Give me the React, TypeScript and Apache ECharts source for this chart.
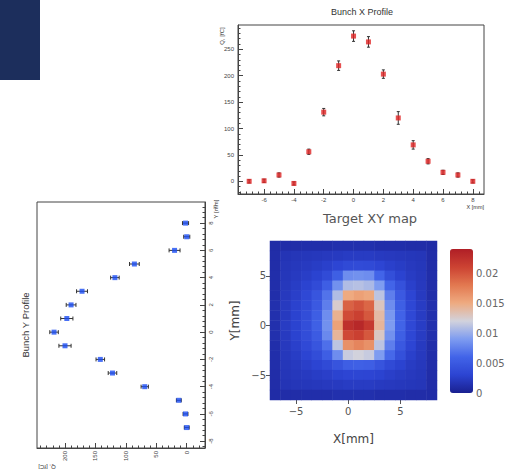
import React, { useEffect, useRef } from "react";
import * as echarts from "echarts";

// ---------- Bunch X profile ----------
const xProfilePos = [-7, -6, -5, -4, -3, -2, -1, 0, 1, 2, 3, 4, 5, 6, 7, 8];
const xProfileQ = [0, 1, 12, -4, 56, 131, 219, 275, 264, 203, 120, 69, 38, 17, 12, 0];
const xProfileErr = [3, 3, 4, 3, 5, 7, 9, 10, 10, 8, 12, 8, 5, 4, 4, 3];

// ---------- Bunch Y profile ----------
const yProfilePos = [8, 7, 6, 5, 4, 3, 2, 1, 0, -1, -2, -3, -4, -5, -6, -7];
const yProfileQ = [2, 0, 20, 86, 118, 172, 190, 197, 218, 200, 142, 122, 69, 13, 2, 0];
const yProfileErr = [5, 5, 9, 8, 7, 9, 8, 10, 7, 10, 7, 7, 6, 4, 4, 4];

// ---------- tick labels ----------
const qTickLabels = [0, 50, 100, 150, 200, 250];
const posTickLabels = [-8, -6, -4, -2, 0, 2, 4, 6, 8];
const mapCells = ["-7", "-6", "-5", "-4", "-3", "-2", "-1", "0", "1", "2", "3", "4", "5", "6", "7", "8"];
const mapTickLabels = ["-5", "0", "5"];
const colorbarTicks = [0, 0.005, 0.01, 0.015, 0.02];

// ---------- Target XY map (rows from y=8 at top down to y=-7) ----------
const mapRowsTopDown = [8, 7, 6, 5, 4, 3, 2, 1, 0, -1, -2, -3, -4, -5, -6, -7];
const mapValues = [
  [0.0010, 0.0011, 0.0011, 0.0012, 0.0012, 0.0012, 0.0013, 0.0013, 0.0013, 0.0013, 0.0012, 0.0012, 0.0012, 0.0011, 0.0011, 0.0010],
  [0.0011, 0.0017, 0.0018, 0.0019, 0.0020, 0.0021, 0.0022, 0.0023, 0.0023, 0.0023, 0.0022, 0.0021, 0.0020, 0.0019, 0.0018, 0.0011],
  [0.0011, 0.0018, 0.0020, 0.0022, 0.0024, 0.0027, 0.0031, 0.0036, 0.0037, 0.0036, 0.0031, 0.0027, 0.0024, 0.0021, 0.0019, 0.0011],
  [0.0012, 0.0019, 0.0022, 0.0025, 0.0029, 0.0037, 0.0055, 0.0082, 0.0084, 0.0082, 0.0060, 0.0040, 0.0029, 0.0023, 0.0020, 0.0012],
  [0.0012, 0.0020, 0.0024, 0.0029, 0.0037, 0.0054, 0.0084, 0.0108, 0.0110, 0.0106, 0.0090, 0.0060, 0.0042, 0.0027, 0.0021, 0.0012],
  [0.0012, 0.0021, 0.0026, 0.0034, 0.0046, 0.0068, 0.0108, 0.0150, 0.0156, 0.0152, 0.0112, 0.0074, 0.0050, 0.0031, 0.0022, 0.0012],
  [0.0013, 0.0022, 0.0028, 0.0036, 0.0050, 0.0074, 0.0125, 0.0192, 0.0200, 0.0190, 0.0130, 0.0082, 0.0055, 0.0033, 0.0023, 0.0013],
  [0.0013, 0.0022, 0.0029, 0.0038, 0.0054, 0.0082, 0.0145, 0.0205, 0.0212, 0.0198, 0.0138, 0.0088, 0.0058, 0.0034, 0.0023, 0.0013],
  [0.0013, 0.0023, 0.0029, 0.0039, 0.0056, 0.0084, 0.0155, 0.0225, 0.0232, 0.0218, 0.0142, 0.0090, 0.0059, 0.0034, 0.0024, 0.0013],
  [0.0013, 0.0022, 0.0029, 0.0038, 0.0052, 0.0080, 0.0142, 0.0206, 0.0212, 0.0198, 0.0128, 0.0084, 0.0055, 0.0033, 0.0023, 0.0013],
  [0.0012, 0.0021, 0.0027, 0.0035, 0.0046, 0.0066, 0.0112, 0.0165, 0.0172, 0.0165, 0.0112, 0.0074, 0.0049, 0.0031, 0.0022, 0.0012],
  [0.0012, 0.0020, 0.0024, 0.0030, 0.0038, 0.0054, 0.0082, 0.0116, 0.0120, 0.0116, 0.0090, 0.0062, 0.0041, 0.0027, 0.0021, 0.0012],
  [0.0012, 0.0019, 0.0022, 0.0026, 0.0030, 0.0036, 0.0045, 0.0054, 0.0056, 0.0054, 0.0045, 0.0036, 0.0029, 0.0023, 0.0020, 0.0012],
  [0.0011, 0.0018, 0.0020, 0.0022, 0.0024, 0.0026, 0.0029, 0.0031, 0.0032, 0.0031, 0.0029, 0.0026, 0.0023, 0.0021, 0.0019, 0.0011],
  [0.0011, 0.0017, 0.0018, 0.0019, 0.0020, 0.0021, 0.0022, 0.0023, 0.0023, 0.0023, 0.0022, 0.0021, 0.0020, 0.0019, 0.0018, 0.0011],
  [0.0010, 0.0011, 0.0011, 0.0012, 0.0012, 0.0012, 0.0013, 0.0013, 0.0013, 0.0013, 0.0012, 0.0012, 0.0012, 0.0011, 0.0011, 0.0010],
];

const ROOT_FONT = "Liberation Sans";
const MPL_FONT = "DejaVu Sans";
const FRAME = "#444";

function steps(min: number, max: number, start: number, step: number): number[] {
  const out: number[] = [];
  for (let v = start; v <= max + 1e-9; v += step) {
    const r = Math.round(v * 1000) / 1000;
    if (r >= min - 1e-9) out.push(r);
  }
  return out;
}
const inRange = (arr: number[], min: number, max: number) => arr.filter((v) => v >= min && v <= max);

function majorAxis(opts: any) {
  const { min, max, labels, position, gridIndex, rotate, inverse, margin } = opts;
  return {
    type: "value",
    gridIndex,
    min,
    max,
    inverse: !!inverse,
    position,
    axisLine: { show: true, onZero: false, lineStyle: { color: FRAME, width: 1 } },
    axisTick: { show: true, inside: true, length: 5, customValues: inRange(labels, min, max), lineStyle: { color: FRAME, width: 1 } },
    axisLabel: {
      show: true,
      customValues: inRange(labels, min, max),
      rotate: rotate || 0,
      margin: margin ?? 3,
      fontSize: 6,
      color: "#444",
      fontFamily: ROOT_FONT,
    },
    splitLine: { show: false },
  };
}

function minorAxis(opts: any) {
  const { min, max, ticks, position, gridIndex, inverse } = opts;
  return {
    type: "value",
    gridIndex,
    min,
    max,
    inverse: !!inverse,
    position,
    axisLine: { show: false, onZero: false },
    axisTick: { show: true, inside: true, length: 2.5, customValues: inRange(ticks, min, max), lineStyle: { color: FRAME, width: 1 } },
    axisLabel: { show: false },
    splitLine: { show: false },
  };
}

function gText(text: string, x: number, y: number, size: number, opts: any = {}) {
  const align = opts.align || "center";
  return {
    type: "text",
    x,
    y,
    rotation: opts.rotation || 0,
    silent: true,
    style: {
      text,
      x: 0,
      y: 0,
      fill: opts.color || "#333",
      fontSize: size,
      fontFamily: opts.font || ROOT_FONT,
      align,
      textAlign: align,
      verticalAlign: "middle",
      textVerticalAlign: "middle",
    },
  };
}

export default function App() {
  const ref = useRef<HTMLDivElement>(null);

  useEffect(() => {
    if (!ref.current) return;
    const chart = echarts.init(ref.current, undefined, { renderer: "svg" });

    const XP = { min: -7.75, max: 8.75 };
    const XQ = { min: -24, max: 296 };
    const YQ = { min: -30, max: 246 };
    const YP = { min: -8.5, max: 9.55 };

    const errStyle = { stroke: "#333", lineWidth: 1 };
    const vErr = (params: any, api: any) => {
      const x = api.value(0), y = api.value(1), e = api.value(2);
      const a = api.coord([x, y + e]);
      const b = api.coord([x, y - e]);
      const c = 1.5;
      return {
        type: "group",
        children: [
          { type: "line", shape: { x1: a[0], y1: a[1], x2: b[0], y2: b[1] }, style: errStyle },
          { type: "line", shape: { x1: a[0] - c, y1: a[1], x2: a[0] + c, y2: a[1] }, style: errStyle },
          { type: "line", shape: { x1: b[0] - c, y1: b[1], x2: b[0] + c, y2: b[1] }, style: errStyle },
        ],
      };
    };
    const hErr = (params: any, api: any) => {
      const q = api.value(0), y = api.value(1), e = api.value(2);
      const a = api.coord([q - e, y]);
      const b = api.coord([q + e, y]);
      const c = 2;
      return {
        type: "group",
        children: [
          { type: "line", shape: { x1: a[0], y1: a[1], x2: b[0], y2: b[1] }, style: errStyle },
          { type: "line", shape: { x1: a[0], y1: a[1] - c, x2: a[0], y2: a[1] + c }, style: errStyle },
          { type: "line", shape: { x1: b[0], y1: b[1] - c, x2: b[0], y2: b[1] + c }, style: errStyle },
        ],
      };
    };

    const heatData: number[][] = [];
    mapRowsTopDown.forEach((yv, r) => {
      const yi = mapCells.indexOf(String(yv));
      mapValues[r].forEach((v, c) => heatData.push([c, yi, v]));
    });

    const showMapTick = (_i: number, v: string) => mapTickLabels.includes(v);

    const option: any = {
      animation: false,
      backgroundColor: "#ffffff",
      grid: [
        { left: 238, top: 25, width: 246, height: 169, show: true, borderColor: FRAME, borderWidth: 1, backgroundColor: "transparent" },
        { left: 37, top: 202, width: 168, height: 246, show: true, borderColor: FRAME, borderWidth: 1, backgroundColor: "transparent" },
        { left: 270, top: 241, width: 167, height: 159, show: false },
        { left: 450, top: 249, width: 23, height: 144, show: false },
      ],
      xAxis: [
        majorAxis({ ...XP, labels: posTickLabels, position: "bottom", gridIndex: 0, margin: 3 }),
        minorAxis({ ...XP, ticks: steps(XP.min, XP.max, -7.6, 0.4), position: "bottom", gridIndex: 0 }),
        majorAxis({ ...YQ, labels: qTickLabels, position: "bottom", gridIndex: 1, rotate: 90, inverse: true, margin: 3 }),
        minorAxis({ ...YQ, ticks: steps(YQ.min, YQ.max, -30, 10), position: "bottom", gridIndex: 1, inverse: true }),
        {
          type: "category",
          gridIndex: 2,
          data: mapCells,
          boundaryGap: true,
          position: "bottom",
          axisLine: { show: false },
          axisTick: { show: true, interval: showMapTick, alignWithLabel: true, length: 4, lineStyle: { color: "#555" } },
          axisLabel: {
            interval: showMapTick,
            formatter: (v: string) => v.replace("-", "\u2212"),
            color: "#555",
            fontSize: 10,
            fontFamily: MPL_FONT,
            margin: 6,
          },
          splitLine: { show: false },
          name: "X[mm]",
          nameLocation: "middle",
          nameGap: 33,
          nameTextStyle: { color: "#444", fontSize: 12, fontFamily: MPL_FONT },
        },
        { type: "value", gridIndex: 3, show: false, min: 0, max: 1 },
      ],
      yAxis: [
        majorAxis({ ...XQ, labels: qTickLabels, position: "left", gridIndex: 0, margin: 4 }),
        minorAxis({ ...XQ, ticks: steps(XQ.min, XQ.max, -20, 10), position: "left", gridIndex: 0 }),
        majorAxis({ ...YP, labels: posTickLabels, position: "right", gridIndex: 1, rotate: 90, margin: 3 }),
        minorAxis({ ...YP, ticks: steps(YP.min, YP.max, -8.4, 0.4), position: "right", gridIndex: 1 }),
        {
          type: "category",
          gridIndex: 2,
          data: mapCells,
          boundaryGap: true,
          position: "left",
          axisLine: { show: false },
          axisTick: { show: true, interval: showMapTick, alignWithLabel: true, length: 4, lineStyle: { color: "#555" } },
          axisLabel: {
            interval: showMapTick,
            formatter: (v: string) => v.replace("-", "\u2212"),
            color: "#555",
            fontSize: 10,
            fontFamily: MPL_FONT,
            margin: 4,
          },
          splitLine: { show: false },
          name: "Y[mm]",
          nameLocation: "middle",
          nameGap: 29,
          nameTextStyle: { color: "#444", fontSize: 12, fontFamily: MPL_FONT },
        },
        {
          type: "value",
          gridIndex: 3,
          min: 0,
          max: 0.024,
          position: "right",
          axisLine: { show: false },
          axisTick: { show: false },
          splitLine: { show: false },
          axisLabel: { customValues: colorbarTicks, color: "#666", fontSize: 10, fontFamily: MPL_FONT, margin: 3 },
        },
      ],
      visualMap: {
        type: "continuous",
        seriesIndex: 4,
        min: 0,
        max: 0.024,
        calculable: false,
        hoverLink: false,
        left: 450,
        top: 249,
        padding: 0,
        itemWidth: 23,
        itemHeight: 144,
        inRange: {
          color: ["#1a2090", "#2c44d2", "#4264e8", "#7e9cf0", "#d2d2dc", "#eeaa80", "#e27850", "#cc4232", "#b01e26"],
        },
      },
      series: [
        {
          type: "custom",
          xAxisIndex: 0,
          yAxisIndex: 0,
          silent: true,
          z: 2,
          data: xProfilePos.map((x, i) => [x, xProfileQ[i], xProfileErr[i]]),
          renderItem: vErr,
        },
        {
          type: "scatter",
          xAxisIndex: 0,
          yAxisIndex: 0,
          z: 3,
          symbol: "rect",
          symbolSize: 5,
          itemStyle: { color: "#e02424" },
          data: xProfilePos.map((x, i) => [x, xProfileQ[i]]),
        },
        {
          type: "custom",
          xAxisIndex: 2,
          yAxisIndex: 2,
          silent: true,
          z: 2,
          data: yProfilePos.map((y, i) => [yProfileQ[i], y, yProfileErr[i]]),
          renderItem: hErr,
        },
        {
          type: "scatter",
          xAxisIndex: 2,
          yAxisIndex: 2,
          z: 3,
          symbol: "rect",
          symbolSize: 5,
          itemStyle: { color: "#1a4cf2" },
          data: yProfilePos.map((y, i) => [yProfileQ[i], y]),
        },
        {
          type: "heatmap",
          xAxisIndex: 4,
          yAxisIndex: 4,
          data: heatData,
          itemStyle: { borderWidth: 0 },
        },
      ],
      graphic: [
        { type: "rect", shape: { x: 0, y: 0, width: 40, height: 80 }, style: { fill: "#1c2e5c" }, silent: true },
        gText("Bunch X Profile", 362, 12, 9),
        gText("Q, [fC]", 222, 36, 6, { rotation: Math.PI / 2 }),
        gText("X [mm]", 484, 207, 5.5, { align: "right" }),
        gText("F", 215, 207, 6, { color: "#666" }),
        gText("Bunch Y Profile", 25, 325, 9.5, { rotation: Math.PI / 2 }),
        gText("Y [mm]", 216, 209, 6, { rotation: Math.PI / 2 }),
        gText("Q, [fC]", 47, 467, 6, { rotation: Math.PI }),
        gText("Target XY map", 370, 218, 13, { font: MPL_FONT, color: "#555" }),
      ],
    };

    chart.setOption(option);
    return () => chart.dispose();
  }, []);

  return (
    <div
      ref={ref}
      style={{ position: "absolute", left: 0, top: 0, width: 515, height: 472, background: "#fff" }}
    />
  );
}
